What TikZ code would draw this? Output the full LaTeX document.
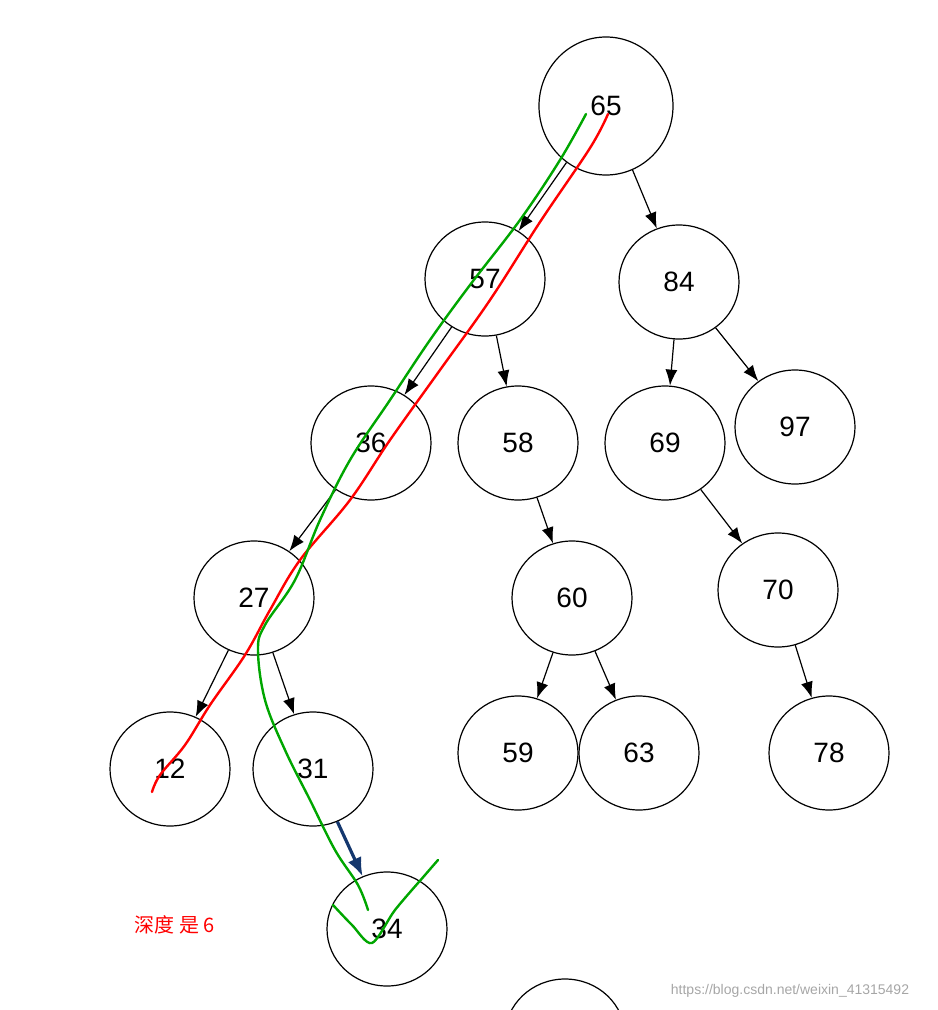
\documentclass[tikz,border=0pt]{standalone}
\usepackage{fontspec}
\setmainfont{Liberation Sans}
\newfontfamily\cjk{Noto Sans CJK SC}
\usetikzlibrary{arrows.meta,shapes.geometric}
\begin{document}
\begin{tikzpicture}[x=0.75pt,y=-0.75pt,
  tn/.style={draw,ellipse,line width=0.9pt,minimum width=120*0.75pt,minimum height=114*0.75pt,inner sep=0pt,font=\fontsize{21}{21}\selectfont},
  ar/.style={-{Latex[length=12pt,width=9pt]},line width=0.9pt},
  red/.style={draw=red,line width=1.8pt,line cap=round,line join=round},
  grn/.style={draw=green!65!black,line width=1.8pt,line cap=round,line join=round}]
\clip (0,0) rectangle (938,1010);
\useasboundingbox (0,0) rectangle (938,1010);
\node[tn,minimum width=134*0.75pt,minimum height=138*0.75pt] (n65) at (606,106) {65};
\node[tn] (n57) at (485,279) {57};
\node[tn] (n84) at (679,282) {84};
\node[tn] (n36) at (371,443) {36};
\node[tn] (n58) at (518,443) {58};
\node[tn] (n69) at (665,443) {69};
\node[tn] (n97) at (795,427) {97};
\node[tn] (n27) at (254,598) {27};
\node[tn] (n60) at (572,598) {60};
\node[tn] (n70) at (778,590) {70};
\node[tn] (n12) at (170,769) {12};
\node[tn] (n31) at (313,769) {31};
\node[tn] (n59) at (518,753) {59};
\node[tn] (n63) at (639,753) {63};
\node[tn] (n78) at (829,753) {78};
\node[tn] (n34) at (387,929) {34};
\node[tn] (nx) at (565,1036) {};
\draw[ar] (n65) -- (n57);
\draw[ar] (n65) -- (n84);
\draw[ar] (n57) -- (n36);
\draw[ar] (n57) -- (n58);
\draw[ar] (n84) -- (n69);
\draw[ar] (n84) -- (n97);
\draw[ar] (n36) -- (n27);
\draw[ar] (n58) -- (n60);
\draw[ar] (n69) -- (n70);
\draw[ar] (n27) -- (n12);
\draw[ar] (n27) -- (n31);
\draw[ar] (n60) -- (n59);
\draw[ar] (n60) -- (n63);
\draw[ar] (n70) -- (n78);
\draw[-{Latex[length=14pt,width=11pt]},line width=2.4pt,draw={rgb,255:red,20;green,55;blue,110},fill={rgb,255:red,20;green,55;blue,110}] (n31) -- (n34);
\path[red] plot[smooth,tension=0.6] coordinates {(608,114) (590,148) (540,222) (490,300) (440,370) (390,440) (350,500) (300,560) (270,610) (245,655) (210,705) (185,745) (160,775) (152,792)};
\path[grn] plot[smooth,tension=0.6] coordinates {(586,114) (560,160) (520,220) (470,285) (430,340) (390,400) (350,460) (320,520) (295,580) (265,625) (258,650) (265,700) (285,750) (310,800) (335,850) (358,885) (368,910)};
\path[grn] plot[smooth,tension=0.5] coordinates {(333,905) (352,925) (372,943) (395,910) (425,875) (438,860)};
\node[text=red,font=\cjk\fontsize{15}{15}\selectfont] (lbl) at (175,925) {深度 是 6};
\node[text=gray!70,font=\fontsize{10.5}{10.5}\selectfont] (wm) at (790,991) {https://blog.csdn.net/weixin\_41315492};
\end{tikzpicture}
\end{document}
